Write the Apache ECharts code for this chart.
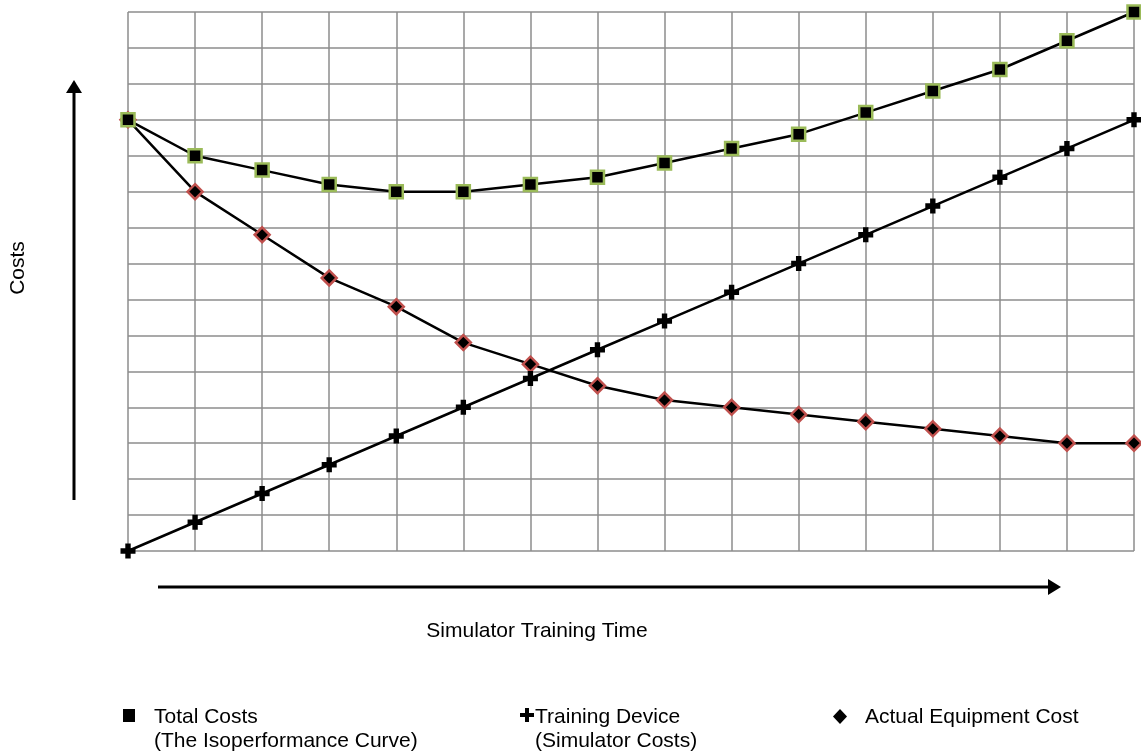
<!DOCTYPE html>
<html>
<head>
<meta charset="utf-8">
<script src="https://cdn.jsdelivr.net/npm/echarts@6/dist/echarts.min.js"></script>
<style>
  html, body { margin: 0; padding: 0; background: #fff; }
  #chart { width: 1141px; height: 754px; }
</style>
</head>
<body>
<div id="chart"></div>
<script>
// x positions along simulator training time (grid steps)
const trainingTime = [0, 1, 2, 3, 4, 5, 6, 7, 8, 9, 10, 11, 12, 13, 14, 15];

// in grid units
const totalCosts = [12, 11, 10.6, 10.2, 10, 10, 10.2, 10.4, 10.8, 11.2, 11.6, 12.2, 12.8, 13.4, 14.2, 15];
const trainingDevice = [0, 0.8, 1.6, 2.4, 3.2, 4, 4.8, 5.6, 6.4, 7.2, 8, 8.8, 9.6, 10.4, 11.2, 12];
const equipmentCost = [12, 10, 8.8, 7.6, 6.8, 5.8, 5.2, 4.6, 4.2, 4, 3.8, 3.6, 3.4, 3.2, 3, 3];

const legendNames = ['Total Costs\n(The Isoperformance Curve)', 'Training Device\n(Simulator Costs)', 'Actual Equipment Cost'];

const plusPath = 'path://M3.2,0H6.8V3.2H10V6.8H6.8V10H3.2V6.8H0V3.2H3.2Z';
const font = 'Liberation Sans, Arial, sans-serif';

const pair = (ys) => trainingTime.map((x, i) => [x, ys[i]]);

const chart = echarts.init(document.getElementById('chart'));

const option = {
  animation: false,
  backgroundColor: '#fff',
  grid: { left: 128, top: 12, right: 7, bottom: 203 },
  xAxis: {
    type: 'value', min: 0, max: 15, interval: 1,
    axisLine: { show: false }, axisTick: { show: false }, axisLabel: { show: false },
    splitLine: { show: true, lineStyle: { color: '#8c8c8c', width: 1.5 } }
  },
  yAxis: {
    type: 'value', min: 0, max: 15, interval: 1,
    axisLine: { show: false }, axisTick: { show: false }, axisLabel: { show: false },
    splitLine: { show: true, lineStyle: { color: '#8c8c8c', width: 1.5 } }
  },
  series: [
    {
      name: legendNames[2], type: 'line', data: pair(equipmentCost),
      symbol: 'diamond', symbolSize: 15,
      lineStyle: { color: '#000', width: 2.5 },
      itemStyle: { color: '#000', borderColor: '#c0504d', borderWidth: 2.5 }
    },
    {
      name: legendNames[1], type: 'line', data: pair(trainingDevice),
      symbol: plusPath, symbolSize: 15,
      lineStyle: { color: '#000', width: 2.5 },
      itemStyle: { color: '#000', borderWidth: 0 }
    },
    {
      name: legendNames[0], type: 'line', data: pair(totalCosts),
      symbol: 'rect', symbolSize: 13,
      lineStyle: { color: '#000', width: 2.5 },
      itemStyle: { color: '#000', borderColor: '#9bbb59', borderWidth: 2.5 }
    }
  ],
  graphic: [
    // vertical "Costs" arrow
    { type: 'line', shape: { x1: 74, y1: 500, x2: 74, y2: 92 }, style: { stroke: '#000', lineWidth: 3 } },
    { type: 'polygon', shape: { points: [[74, 80], [66, 93], [82, 93]] }, style: { fill: '#000' } },
    // horizontal "time" arrow
    { type: 'line', shape: { x1: 158, y1: 587, x2: 1048, y2: 587 }, style: { stroke: '#000', lineWidth: 3 } },
    { type: 'polygon', shape: { points: [[1061, 587], [1048, 579], [1048, 595]] }, style: { fill: '#000' } },
    {
      type: 'text', x: 18, y: 268, rotation: Math.PI / 2,
      style: { text: 'Costs', font: '21px ' + font, fill: '#000', align: 'center', verticalAlign: 'middle' }
    },
    {
      type: 'text', x: 537, y: 631,
      style: { text: 'Simulator Training Time', font: '21px ' + font, fill: '#000', align: 'center', verticalAlign: 'middle' }
    },
    // legend
    { type: 'rect', shape: { x: 123, y: 709, width: 12, height: 13 }, style: { fill: '#000' } },
    {
      type: 'text', x: 154, y: 705,
      style: { text: legendNames[0], font: '21px ' + font, fill: '#000', lineHeight: 24 }
    },
    { type: 'polygon', shape: { points: [[525, 708], [529, 708], [529, 713], [534, 713], [534, 717], [529, 717], [529, 722], [525, 722], [525, 717], [520, 717], [520, 713], [525, 713]] }, style: { fill: '#000' } },
    {
      type: 'text', x: 535, y: 705,
      style: { text: legendNames[1], font: '21px ' + font, fill: '#000', lineHeight: 24 }
    },
    { type: 'polygon', shape: { points: [[840, 709], [847, 716.5], [840, 724], [833, 716.5]] }, style: { fill: '#000' } },
    {
      type: 'text', x: 865, y: 705,
      style: { text: legendNames[2], font: '21px ' + font, fill: '#000', lineHeight: 24 }
    }
  ]
};

chart.setOption(option);
</script>
</body>
</html>
